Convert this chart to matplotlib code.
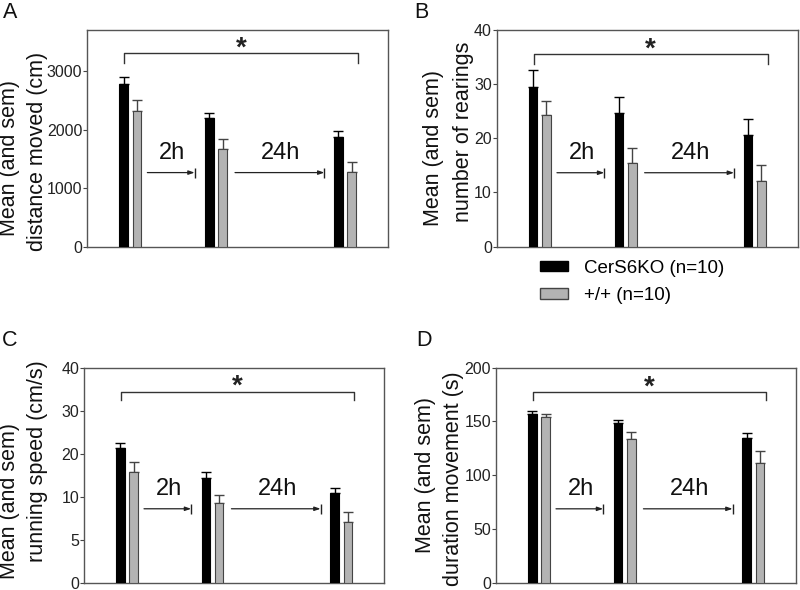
import numpy as np
import matplotlib
matplotlib.use("Agg")
import matplotlib.pyplot as plt
from matplotlib.patches import Patch

plt.rcParams['font.family'] = ['Liberation Sans', 'DejaVu Sans']

# ---- data ----
groups = [1, 3, 6]          # test sessions (baseline, +2h, +24h)
series = ["CerS6KO (n=10)", "+/+ (n=10)"]

dist_ko = [2780, 2195, 1870]
dist_ko_err = [120, 85, 100]
dist_wt = [2325, 1665, 1272]
dist_wt_err = [180, 170, 180]

rear_ko = [29.5, 24.6, 20.6]
rear_ko_err = [3.2, 3.0, 2.9]
rear_wt = [24.4, 15.5, 12.2]
rear_wt_err = [2.5, 2.8, 2.9]

speed_ko = [21.3, 14.5, 10.9]
speed_ko_err = [1.3, 1.2, 1.1]
speed_wt = [15.9, 9.3, 7.1]
speed_wt_err = [2.2, 1.1, 1.1]

dur_ko = [157.4, 148.4, 134.8]
dur_ko_err = [2.0, 3.4, 4.6]
dur_wt = [154.0, 133.6, 111.7]
dur_wt_err = [3.0, 6.8, 11.0]

ylabel_line1 = "Mean (and sem)"
ylabel_line2 = ["distance moved (cm)", "number of rearings",
                "running speed (cm/s)", "duration movement (s)"]
panel_letters = ["A", "B", "C", "D"]
yticks_list = [[0, 1000, 2000, 3000], [0, 10, 20, 30, 40],
               [0, 5, 10, 20, 30, 40], [0, 50, 100, 150, 200]]
ylims = [(0, 3700), (0, 40), (0, 40), (0, 200)]
bracket_y = [3300, 35.5, 34.4, 177.4]
bracket_drop = [3135, 33.8, 32.4, 169.7]
arrow_y = [1265, 13.65, 8.63, 69]
interval_labels = ["2h", "24h"]

# panel C axis labels are evenly spaced although the values are not
c_vals = [0, 5, 10, 20, 30, 40]
c_pos = [0, 1, 2, 3, 4, 5]

BLACK = "#000000"
GRAY = "#b3b3b3"
EDGE = "#444444"

W, H = 800, 590
fig = plt.figure(figsize=(8, 5.9), dpi=100)
rects = [[0.109, 0.582, 0.376, 0.367],
         [0.621, 0.582, 0.376, 0.367],
         [0.105, 0.0115, 0.375, 0.3655],
         [0.620, 0.0115, 0.375, 0.3655]]

data = [(dist_ko, dist_ko_err, dist_wt, dist_wt_err),
        (rear_ko, rear_ko_err, rear_wt, rear_wt_err),
        (speed_ko, speed_ko_err, speed_wt, speed_wt_err),
        (dur_ko, dur_ko_err, dur_wt, dur_wt_err)]

# pixel positions (centres) of the two y-label lines, and panel letters
lab1_px = [(10, 158), (434, 148), (10, 501), (425, 475)]
lab2_px = [(38, 151), (463, 132), (38, 461), (453, 479)]
letter_px = [(3, 12.5), (414, 12.5), (2, 341), (416, 340)]

x = np.array(groups, dtype=float)
w = 0.2
off = 0.155
for i, (rect, (ko, koe, wt, wte)) in enumerate(zip(rects, data)):
    ax = fig.add_axes(rect)
    if i == 2:
        ax.set_yscale('function', functions=(lambda v: np.interp(v, c_vals, c_pos),
                                             lambda p: np.interp(p, c_pos, c_vals)))
    ax.bar(x - off, ko, w, color=BLACK, edgecolor=BLACK, linewidth=0.8, zorder=3)
    ax.bar(x + off, wt, w, color=GRAY, edgecolor=EDGE, linewidth=0.8, zorder=3)
    ax.errorbar(x - off, ko, yerr=[np.zeros(3), koe], fmt='none', ecolor=BLACK,
                elinewidth=1.0, capsize=3.5, capthick=1.0, zorder=2)
    ax.errorbar(x + off, wt, yerr=[np.zeros(3), wte], fmt='none', ecolor=EDGE,
                elinewidth=1.0, capsize=3.5, capthick=1.0, zorder=2)
    ax.set_xlim(0, 7)
    ax.set_ylim(*ylims[i])
    ax.set_yticks(yticks_list[i])
    ax.set_yticklabels([str(t) for t in yticks_list[i]])
    ax.set_xticks([])
    ax.tick_params(axis='y', length=3, pad=0.5, labelsize=11.5, color=EDGE,
                   labelcolor="#222222")
    for s in ax.spines.values():
        s.set_color("#555555")
        s.set_linewidth(1.0)

    # y-axis title (two lines)
    fig.text(lab1_px[i][0] / W, 1 - lab1_px[i][1] / H, ylabel_line1, rotation=90,
             ha='center', va='center', fontsize=15.5, color="#111111")
    fig.text(lab2_px[i][0] / W, 1 - lab2_px[i][1] / H, ylabel_line2[i], rotation=90,
             ha='center', va='center', fontsize=15.5, color="#111111")

    # significance bracket
    bx0, bx1 = 0.86, 6.3
    ax.plot([bx0, bx0, bx1, bx1], [bracket_drop[i], bracket_y[i], bracket_y[i], bracket_drop[i]],
            color="#333333", lw=1.0, zorder=4)
    ax.annotate("*", xy=((bx0 + bx1) / 2, bracket_y[i]), xytext=(0, -6),
                textcoords='offset points', ha='center', va='bottom',
                fontsize=20, fontweight='bold', color="#222222")

    # interval arrows
    for (a0, a1), lab in zip([(1.40, 2.50), (3.44, 5.52)], interval_labels):
        ay = arrow_y[i]
        ax.annotate("", xy=(a1, ay), xytext=(a0, ay),
                    arrowprops=dict(arrowstyle="-|>,head_length=0.35,head_width=0.12",
                                    color="#222222", lw=0.9, shrinkA=0, shrinkB=0))
        ax.plot([a1], [ay], marker='|', markersize=7, color="#222222", mew=1.0)
        ax.annotate(lab, xy=((a0 + a1) / 2 + 0.03, ay), xytext=(0, 6),
                    textcoords='offset points', ha='center', va='bottom',
                    fontsize=17, color="#111111")

    fig.text(letter_px[i][0] / W, 1 - letter_px[i][1] / H, panel_letters[i], fontsize=15.5,
             ha='left', va='center', color="#111111")

    if i == 1:
        handles = [Patch(facecolor=BLACK, edgecolor=BLACK),
                   Patch(facecolor=GRAY, edgecolor=EDGE)]
        ax.legend(handles, series, loc='upper left', bbox_to_anchor=(0.12, -0.025),
                  frameon=False, fontsize=13.5, handlelength=1.45, handleheight=0.5,
                  handletextpad=0.9, labelspacing=0.55, borderaxespad=0)

fig.savefig("out.png", dpi=100)
